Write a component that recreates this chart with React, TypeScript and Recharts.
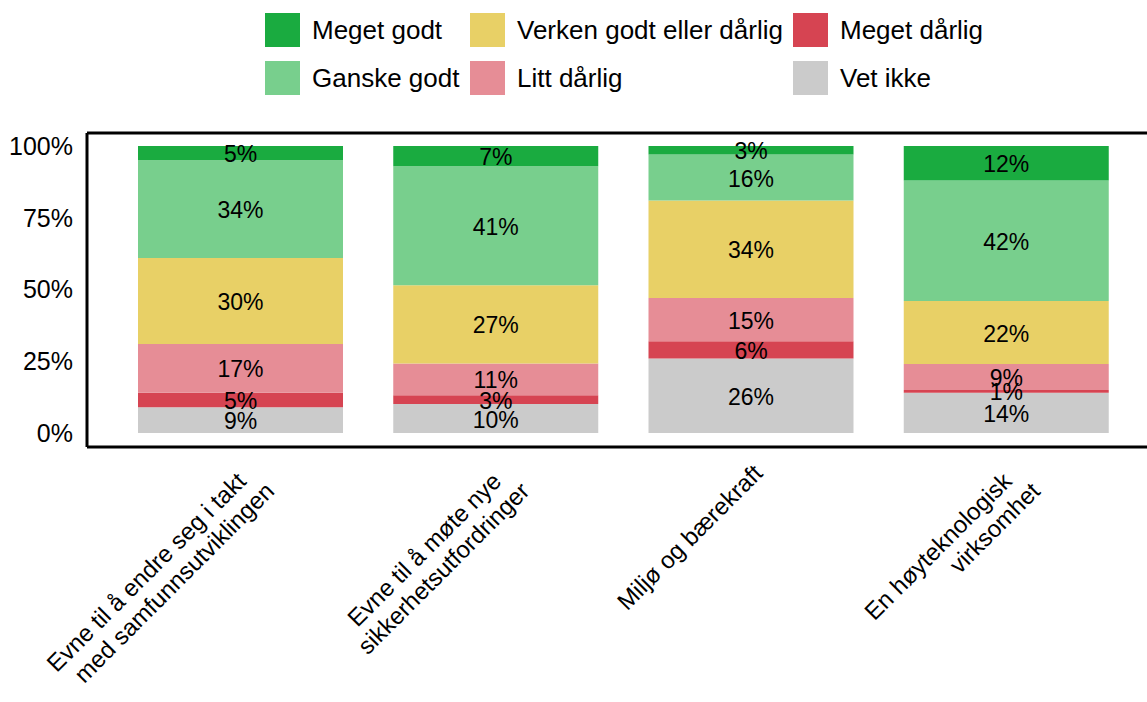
import React from "react";
import { BarChart, Bar, XAxis, YAxis, LabelList, ReferenceLine } from "recharts";

const categories = [
  "Evne til å endre seg i takt\nmed samfunnsutviklingen",
  "Evne til å møte nye\nsikkerhetsutfordringer",
  "Miljø og bærekraft",
  "En høyteknologisk\nvirksomhet",
];
const vetIkke = [9, 10, 26, 14];
const megetDarlig = [5, 3, 6, 1];
const littDarlig = [17, 11, 15, 9];
const verken = [30, 27, 34, 22];
const ganskeGodt = [34, 41, 16, 42];
const megetGodt = [5, 7, 3, 12];
const yTicks = [0, 25, 50, 75, 100];

const series = [
  { key: "vet", name: "Vet ikke", values: vetIkke, color: "#cbcbcb" },
  { key: "md", name: "Meget dårlig", values: megetDarlig, color: "#d64452" },
  { key: "ld", name: "Litt dårlig", values: littDarlig, color: "#e68d96" },
  { key: "vk", name: "Verken godt eller dårlig", values: verken, color: "#e8d066" },
  { key: "gg", name: "Ganske godt", values: ganskeGodt, color: "#78cf8d" },
  { key: "mg", name: "Meget godt", values: megetGodt, color: "#1aab40" },
];

const legendRows = [
  ["mg", "vk", "md"],
  ["gg", "ld", "vet"],
];

const data = categories.map((c, i) => {
  const total = series.reduce((s, se) => s + se.values[i], 0);
  const row: any = { name: c };
  series.forEach((se) => {
    row[se.key] = (se.values[i] / total) * 100;
    row["raw_" + se.key] = se.values[i];
  });
  return row;
});

const FONT = "'Liberation Sans', Arial, sans-serif";

const XTick = (props: any) => {
  const { x, y, payload } = props;
  const lines = String(payload.value).split("\n");
  const single = lines.length === 1;
  const tx = single ? x + 5 : x - 1;
  const ty = single ? y + 18 : y + 26;
  return (
    <g transform={`translate(${tx},${ty}) rotate(-45)`}>
      {lines.map((l, i) => (
        <text
          key={i}
          x={i === 0 ? 0 : 13}
          y={11 + i * 27}
          textAnchor="end"
          fontSize={24}
          fontFamily={FONT}
          fill="#000"
        >
          {l}
        </text>
      ))}
    </g>
  );
};

const SegLabel = (props: any) => {
  const { x, y, width, height, value } = props;
  return (
    <text
      x={x + width / 2}
      y={y + height / 2 + 9}
      textAnchor="middle"
      fontSize={23}
      fontFamily={FONT}
      fill="#000"
    >
      {`${value}%`}
    </text>
  );
};

const colX = [265, 470, 793];
const rowY = [13, 61];

export default function App() {
  const byKey: any = {};
  series.forEach((s) => (byKey[s.key] = s));
  return (
    <div style={{ position: "absolute", left: 0, top: 0, width: 1147, height: 702, background: "#fff" }}>
      <div style={{ position: "absolute", left: 0, top: 0, width: 1147, height: 110, fontFamily: FONT }}>
        {legendRows.map((row, ri) =>
          row.map((k, ci) => (
            <div key={k} style={{ position: "absolute", left: colX[ci], top: rowY[ri], height: 34, display: "flex", alignItems: "center", whiteSpace: "nowrap" }}>
              <div style={{ width: 35, height: 34, background: byKey[k].color }} />
              <span style={{ marginLeft: 12, fontSize: 26, color: "#000" }}>{byKey[k].name}</span>
            </div>
          ))
        )}
      </div>
      <BarChart
        width={1147}
        height={702}
        data={data}
        margin={{ top: 133, right: 0, bottom: 0, left: 0 }}
        barSize={205}
      >
        <XAxis
          dataKey="name"
          height={255}
          tick={<XTick />}
          tickLine={false}
          tickSize={0}
          interval={0}
          padding={{ left: 26, right: 13 }}
          axisLine={{ stroke: "#000", strokeWidth: 3 }}
        />
        <YAxis
          width={87}
          domain={[-4.88, 104.53]}
          ticks={yTicks}
          allowDataOverflow
          tickFormatter={(v: number) => `${v}%`}
          tickLine={false}
          tickSize={0}
          tickMargin={14}
          axisLine={{ stroke: "#000", strokeWidth: 3 }}
          tick={{ fontSize: 25, fill: "#000", fontFamily: FONT }}
        />
        <ReferenceLine y={104.53} stroke="#000" strokeWidth={3} ifOverflow="extendDomain" />
        {series.map((s) => (
          <Bar key={s.key} dataKey={s.key} name={s.name} stackId="a" fill={s.color} isAnimationActive={false}>
            <LabelList dataKey={"raw_" + s.key} content={<SegLabel />} />
          </Bar>
        ))}
      </BarChart>
    </div>
  );
}
